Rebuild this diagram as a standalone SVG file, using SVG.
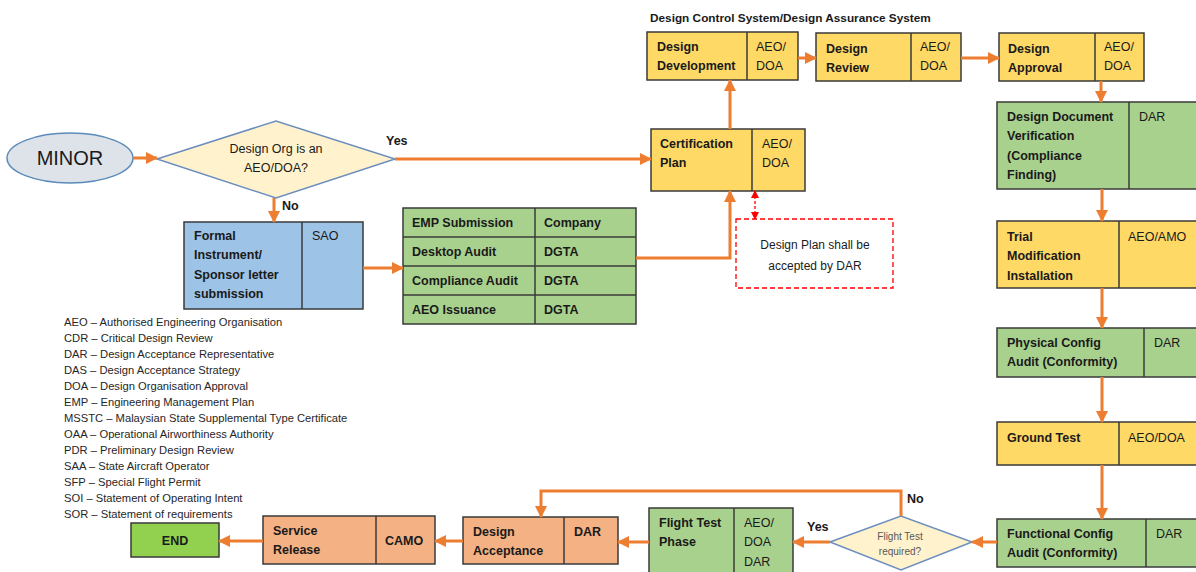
<svg xmlns="http://www.w3.org/2000/svg" width="1196" height="572" viewBox="0 0 1196 572">
<defs>
<marker id="arr" markerUnits="userSpaceOnUse" markerWidth="12" markerHeight="12" refX="11" refY="6" orient="auto"><path d="M0,0 L12,6 L0,12 z" fill="#ed7d31"/></marker>
<marker id="rarr" markerUnits="userSpaceOnUse" markerWidth="8" markerHeight="8" refX="7" refY="4" orient="auto-start-reverse"><path d="M0,0 L8,4 L0,8 z" fill="#ff0000"/></marker>
<style>
.box{stroke:#3a3a3a;stroke-width:1.5}
.y{fill:#ffd966}.g{fill:#a9d18e}.o{fill:#f4b183}.b{fill:#9dc3e6}
.t{font-family:"Liberation Sans",Arial,sans-serif;font-size:12.5px;fill:#1a1a1a}
.bt{font-family:"Liberation Sans",Arial,sans-serif;font-size:12.5px;font-weight:bold;fill:#1a1a1a}
.lg{font-family:"Liberation Sans",Arial,sans-serif;font-size:11.2px;fill:#262626}
.c{fill:none;stroke:#ed7d31;stroke-width:3}
</style>
</defs>
<rect width="1196" height="572" fill="#ffffff"/>
<text class="bt" x="650" y="22" style="font-size:11.8px">Design Control System/Design Assurance System</text>

<g id="minor"><ellipse cx="70" cy="158" rx="63" ry="25" fill="#dee3ea" stroke="#5b8bb8" stroke-width="1.5"/><text x="70" y="165" text-anchor="middle" style="font-family:'Liberation Sans',Arial,sans-serif;font-size:20px;fill:#1a1a1a">MINOR</text></g>

<g id="decision1"><polygon points="157,159 276,121 395,159 276,198" fill="#fff2cc" stroke="#6c8ebf" stroke-width="1.5"/><text class="t" x="276" y="153" text-anchor="middle">Design Org is an</text><text class="t" x="276" y="172" text-anchor="middle">AEO/DOA?</text></g>

<g id="formal"><rect class="box b" x="184" y="222" width="179" height="87"/><line class="box" x1="302" y1="222" x2="302" y2="309"/><text class="bt" x="194" y="240">Formal</text><text class="bt" x="194" y="259">Instrument/</text><text class="bt" x="194" y="279">Sponsor letter</text><text class="bt" x="194" y="298">submission</text><text class="t" x="312" y="240">SAO</text></g>

<g id="aeo-table"><rect class="box g" x="403" y="208" width="233" height="116"/><line class="box" x1="535" y1="208" x2="535" y2="324"/><line class="box" x1="403" y1="237" x2="636" y2="237"/><line class="box" x1="403" y1="266" x2="636" y2="266"/><line class="box" x1="403" y1="295" x2="636" y2="295"/>
<text class="bt" x="412" y="227">EMP Submission</text><text class="bt" x="544" y="227">Company</text>
<text class="bt" x="412" y="256">Desktop Audit</text><text class="bt" x="544" y="256">DGTA</text>
<text class="bt" x="412" y="285">Compliance Audit</text><text class="bt" x="544" y="285">DGTA</text>
<text class="bt" x="412" y="314">AEO Issuance</text><text class="bt" x="544" y="314">DGTA</text></g>

<g id="cert-plan"><rect class="box y" x="651" y="129" width="154" height="62"/><line class="box" x1="752" y1="129" x2="752" y2="191"/><text class="bt" x="660" y="148">Certification</text><text class="bt" x="660" y="167">Plan</text><text class="t" x="762" y="148">AEO/</text><text class="t" x="762" y="167">DOA</text></g>

<g id="note"><rect x="736" y="219" width="157" height="69" fill="#ffffff" stroke="#ff0000" stroke-width="1.3" stroke-dasharray="5,3"/><text class="t" x="815" y="249" text-anchor="middle" style="font-size:12px">Design Plan shall be</text><text class="t" x="815" y="270" text-anchor="middle" style="font-size:12px">accepted by DAR</text></g>

<g id="design-dev"><rect class="box y" x="647" y="32" width="151" height="48"/><line class="box" x1="747" y1="32" x2="747" y2="80"/><text class="bt" x="657" y="51">Design</text><text class="bt" x="657" y="70">Development</text><text class="t" x="756" y="51">AEO/</text><text class="t" x="756" y="70">DOA</text></g>

<g id="design-review"><rect class="box y" x="816" y="33" width="145" height="48"/><line class="box" x1="911" y1="33" x2="911" y2="81"/><text class="bt" x="826" y="53">Design</text><text class="bt" x="826" y="72">Review</text><text class="t" x="920" y="51">AEO/</text><text class="t" x="920" y="70">DOA</text></g>

<g id="design-approval"><rect class="box y" x="999" y="33" width="145" height="48"/><line class="box" x1="1095" y1="33" x2="1095" y2="81"/><text class="bt" x="1008" y="53">Design</text><text class="bt" x="1008" y="72">Approval</text><text class="t" x="1104" y="51">AEO/</text><text class="t" x="1104" y="70">DOA</text></g>

<g id="ddv"><rect class="box g" x="997" y="102" width="205" height="87"/><line class="box" x1="1129" y1="102" x2="1129" y2="189"/><text class="bt" x="1007" y="121">Design Document</text><text class="bt" x="1007" y="140">Verification</text><text class="bt" x="1007" y="160">(Compliance</text><text class="bt" x="1007" y="179">Finding)</text><text class="t" x="1139" y="121">DAR</text></g>

<g id="trial"><rect class="box y" x="997" y="221" width="205" height="67"/><line class="box" x1="1119" y1="221" x2="1119" y2="288"/><text class="bt" x="1007" y="241">Trial</text><text class="bt" x="1007" y="260">Modification</text><text class="bt" x="1007" y="280">Installation</text><text class="t" x="1128" y="241">AEO/AMO</text></g>

<g id="pca"><rect class="box g" x="997" y="328" width="205" height="49"/><line class="box" x1="1144" y1="328" x2="1144" y2="377"/><text class="bt" x="1007" y="347">Physical Config</text><text class="bt" x="1007" y="366">Audit (Conformity)</text><text class="t" x="1154" y="347">DAR</text></g>

<g id="ground"><rect class="box y" x="997" y="422" width="205" height="43"/><line class="box" x1="1119" y1="422" x2="1119" y2="465"/><text class="bt" x="1007" y="442">Ground Test</text><text class="t" x="1128" y="442">AEO/DOA</text></g>

<g id="fca"><rect class="box g" x="997" y="519" width="205" height="48"/><line class="box" x1="1146" y1="519" x2="1146" y2="567"/><text class="bt" x="1007" y="538">Functional Config</text><text class="bt" x="1007" y="557">Audit (Conformity)</text><text class="t" x="1156" y="538">DAR</text></g>

<g id="decision2"><polygon points="830,542 901,516 972,542 901,570" fill="#fff2cc" stroke="#6c8ebf" stroke-width="1.5"/><text x="900" y="540" text-anchor="middle" style="font-family:'Liberation Sans',Arial,sans-serif;font-size:10px;fill:#595959">Flight Test</text><text x="900" y="555" text-anchor="middle" style="font-family:'Liberation Sans',Arial,sans-serif;font-size:10px;fill:#595959">required?</text></g>

<g id="flight-test"><rect class="box g" x="649" y="508" width="144" height="70"/><line class="box" x1="734" y1="508" x2="734" y2="578"/><text class="bt" x="659" y="527">Flight Test</text><text class="bt" x="659" y="546">Phase</text><text class="t" x="744" y="527">AEO/</text><text class="t" x="744" y="546">DOA</text><text class="t" x="744" y="566">DAR</text></g>

<g id="design-acceptance"><rect class="box o" x="463" y="517" width="155" height="47"/><line class="box" x1="564" y1="517" x2="564" y2="564"/><text class="bt" x="473" y="536">Design</text><text class="bt" x="473" y="555">Acceptance</text><text class="bt" x="574" y="536">DAR</text></g>

<g id="service-release"><rect class="box o" x="263" y="516" width="172" height="48"/><line class="box" x1="376" y1="516" x2="376" y2="564"/><text class="bt" x="273" y="535">Service</text><text class="bt" x="273" y="554">Release</text><text class="bt" x="385" y="545">CAMO</text></g>

<g id="end"><rect class="box" x="131" y="523" width="88" height="34" fill="#92d050"/><text class="bt" x="175" y="545" text-anchor="middle">END</text></g>

<g id="legend">
<text class="lg" x="64" y="326">AEO – Authorised Engineering Organisation</text>
<text class="lg" x="64" y="342">CDR – Critical Design Review</text>
<text class="lg" x="64" y="358">DAR – Design Acceptance Representative</text>
<text class="lg" x="64" y="374">DAS – Design Acceptance Strategy</text>
<text class="lg" x="64" y="390">DOA – Design Organisation Approval</text>
<text class="lg" x="64" y="406">EMP – Engineering Management Plan</text>
<text class="lg" x="64" y="422">MSSTC – Malaysian State Supplemental Type Certificate</text>
<text class="lg" x="64" y="438">OAA – Operational Airworthiness Authority</text>
<text class="lg" x="64" y="454">PDR – Preliminary Design Review</text>
<text class="lg" x="64" y="470">SAA – State Aircraft Operator</text>
<text class="lg" x="64" y="486">SFP – Special Flight Permit</text>
<text class="lg" x="64" y="502">SOI – Statement of Operating Intent</text>
<text class="lg" x="64" y="518">SOR – Statement of requirements</text>
</g>

<g id="connectors">
<path class="c" d="M133,158 L157,158" marker-end="url(#arr)"/>
<path class="c" d="M395,159 L651,159" marker-end="url(#arr)"/>
<path class="c" d="M274,198 L274,222" marker-end="url(#arr)"/>
<path class="c" d="M363,268 L403,268" marker-end="url(#arr)"/>
<path class="c" d="M636,258 L730,258 L730,191" marker-end="url(#arr)"/>
<path class="c" d="M730,129 L730,80" marker-end="url(#arr)"/>
<path class="c" d="M798,58 L816,58" marker-end="url(#arr)"/>
<path class="c" d="M961,58 L999,58" marker-end="url(#arr)"/>
<path class="c" d="M1101,81 L1101,102" marker-end="url(#arr)"/>
<path class="c" d="M1102,189 L1102,221" marker-end="url(#arr)"/>
<path class="c" d="M1102,288 L1102,328" marker-end="url(#arr)"/>
<path class="c" d="M1102,377 L1102,422" marker-end="url(#arr)"/>
<path class="c" d="M1102,465 L1102,519" marker-end="url(#arr)"/>
<path class="c" d="M997,542 L972,542" marker-end="url(#arr)"/>
<path class="c" d="M830,542 L793,542" marker-end="url(#arr)"/>
<path class="c" d="M901,516 L901,491 L541,491 L541,517" marker-end="url(#arr)"/>
<path class="c" d="M649,542 L618,542" marker-end="url(#arr)"/>
<path class="c" d="M463,541 L435,541" marker-end="url(#arr)"/>
<path class="c" d="M263,541 L219,541" marker-end="url(#arr)"/>
<path d="M755,191 L755,219" fill="none" stroke="#ff0000" stroke-width="1.3" stroke-dasharray="3,2" marker-start="url(#rarr)" marker-end="url(#rarr)"/>
<text class="bt" x="386" y="145">Yes</text>
<text class="bt" x="282" y="210">No</text>
<text class="bt" x="807" y="531">Yes</text>
<text class="bt" x="907" y="503">No</text>
</g>
</svg>
